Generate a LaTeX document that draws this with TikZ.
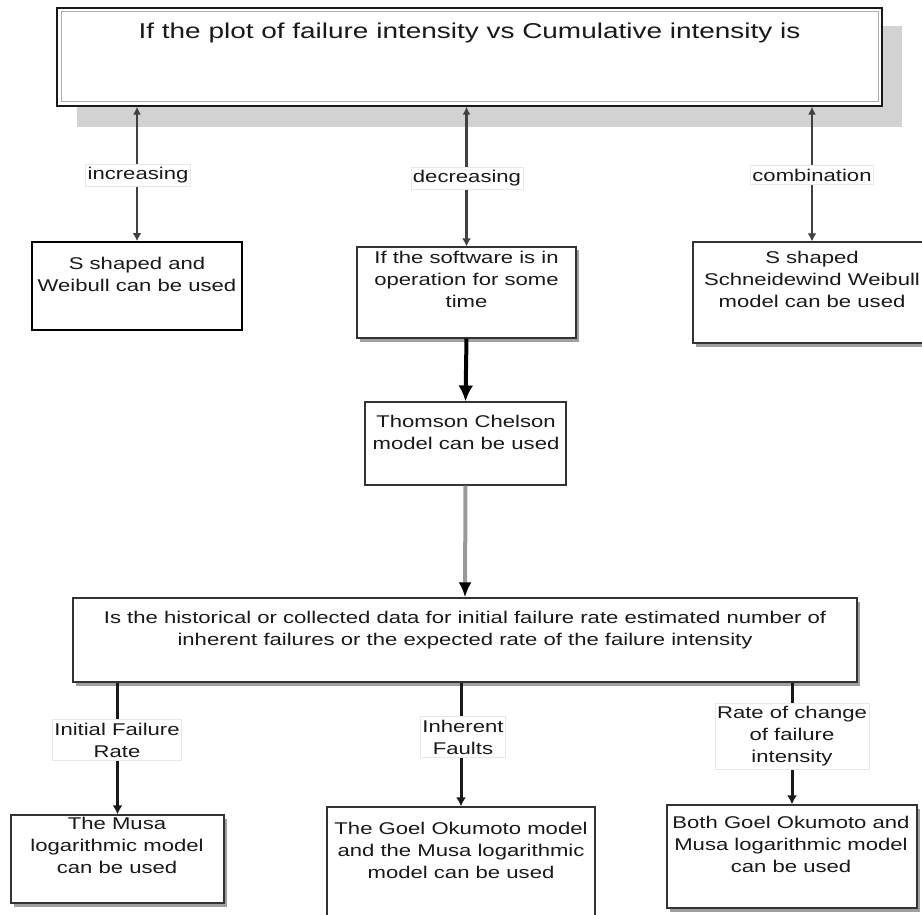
\documentclass[tikz,border=0pt]{standalone}
\usepackage{fontspec}
\setmainfont[FakeStretch=1.3]{Liberation Sans}
\usetikzlibrary{arrows.meta,shadows}

\newcommand\bodyfont{\fontsize{17}{22}\selectfont}
\newcommand\headfont{\fontsize{21.5}{25}\selectfont}

\begin{document}
\begin{tikzpicture}[x=1pt,y=-1pt,
  boxbase/.style={draw=black!80, line width=1.3pt, fill=white, inner sep=0pt},
  shadowbox/.style={boxbase, drop shadow={shadow xshift=2.5pt, shadow yshift=-3.5pt, fill=gray!75, opacity=1}},
  boxtext/.style={font=\bodyfont, align=center, inner sep=0pt, anchor=north, text=black!90},
  edgelabel/.style={font=\bodyfont, align=center, fill=white, draw=gray!18, line width=0.8pt,
                    inner xsep=2pt, inner ysep=3pt, text=black!90},
  upconn/.style={black!75, line width=2.5pt,
                 {Latex[length=8pt,width=8pt]}-{Latex[length=8pt,width=9pt]}},
  downconn/.style={black!90, line width=3pt, -{Latex[length=9pt,width=10pt]}}
]
\useasboundingbox (0,0) rectangle (922,915);
\fill[white] (0,0) rectangle (922,915);

% question box at the top, with its broad shadow and double border
\fill[gray!35] (77,26) rectangle (902,127);
\node[draw=black!90, line width=1.3pt, fill=white, inner sep=0pt,
      minimum width=825pt, minimum height=98pt] (top) at (469.5,57) {};
\draw[gray!65, line width=1pt] (61,12) rectangle (878,102);
\node[font=\headfont, inner sep=0pt, anchor=north, text=black!90] (toptext) at (469.5,23)
  {If the plot of failure intensity vs Cumulative intensity is};

% first level of answers
\node[boxbase, draw=black, line width=1.9pt, minimum width=210pt, minimum height=88pt] (sw) at (137,286) {};
\node[boxtext] (swt) at (137,256.5) {S shaped and\\Weibull can be used};

\node[shadowbox, minimum width=219pt, minimum height=91pt] (sof) at (466.5,292.5) {};
\node[boxtext] (soft) at (466.5,251) {If the software is in\\operation for some\\time};

\node[shadowbox, minimum width=238pt, minimum height=101pt] (schw) at (812,292.5) {};
\node[boxtext] (schwt) at (812,251) {S shaped\\Schneidewind Weibull\\model can be used};

\node[boxbase, line width=1.1pt, minimum width=201pt, minimum height=83pt] (tc) at (465.5,443.5) {};
\node[boxtext] (tct) at (466,415) {Thomson Chelson\\model can be used};

% data question
\node[shadowbox, minimum width=784pt, minimum height=84pt] (hist) at (465,640) {};
\node[boxtext] (histt) at (465,611)
  {Is the historical or collected data for initial failure rate estimated number of\\
   inherent failures or the expected rate of the failure intensity};

% final recommendations
\node[shadowbox, minimum width=213pt, minimum height=88pt] (musa) at (117.5,859) {};
\node[boxtext] (musat) at (117,817) {The Musa\\logarithmic model\\can be used};

\node[boxbase, minimum width=268pt, minimum height=123pt] (goel) at (461,868.5) {};
\node[boxtext] (goelt) at (461,822) {The Goel Okumoto model\\and the Musa logarithmic\\model can be used};

\node[shadowbox, minimum width=250pt, minimum height=103pt] (both) at (792,856.5) {};
\node[boxtext] (botht) at (791,816) {Both Goel Okumoto and\\Musa logarithmic model\\can be used};

% connectors
\draw[upconn] (top.south -| sw.north) -- (sw.north);
\draw[upconn] (top.south -| sof.north) -- (sof.north);
\draw[upconn] (top.south -| schw.north) -- (schw.north);
\draw[black, line width=4pt, -{Latex[length=16pt,width=15pt]}] (sof.south) -- (tc.north);
\draw[gray!80, line width=4pt, -{Latex[black,length=15pt,width=13pt]}] (tc.south) -- (hist.north);
\draw[downconn] (hist.south -| musa.north) -- (musa.north);
\draw[downconn] (hist.south -| goel.north) -- (goel.north);
\draw[downconn] (hist.south -| both.north) -- (both.north);

% labels on the connectors
\node[edgelabel] (inc) at (138,175) {increasing};
\node[edgelabel] (dec) at (467,178) {decreasing};
\node[edgelabel] (comb) at (812,175) {combination};
\node[edgelabel] (ifr) at (117,740) {Initial Failure\\Rate};
\node[edgelabel] (inh) at (463,737) {Inherent\\Faults};
\node[edgelabel] (roc) at (792,736) {Rate of change\\of failure\\intensity};
\end{tikzpicture}
\end{document}
